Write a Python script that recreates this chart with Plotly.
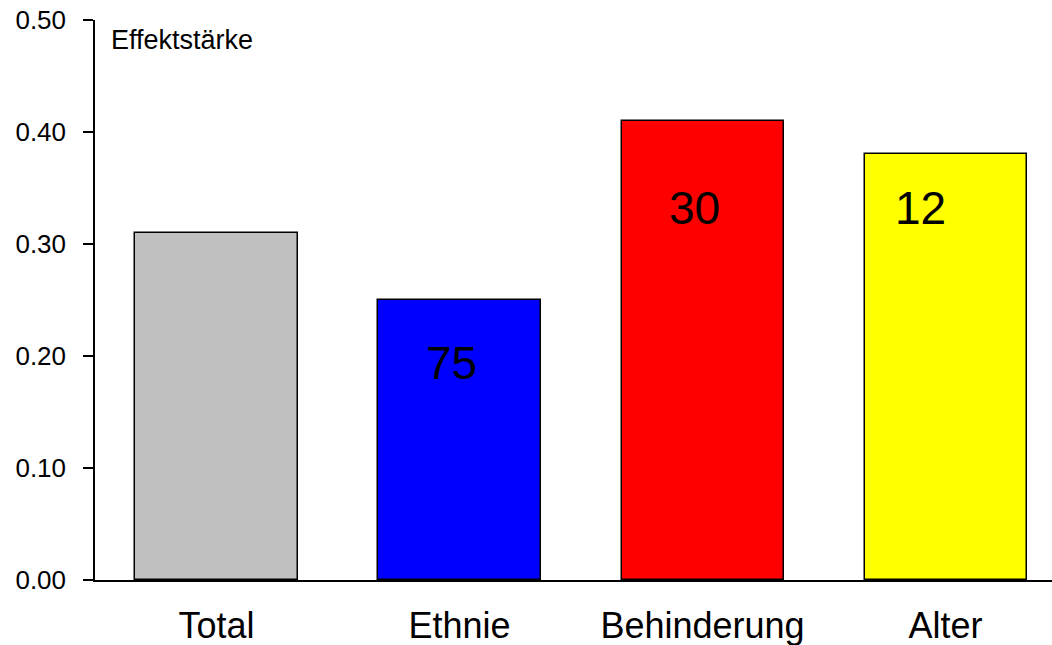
import plotly.graph_objects as go

categories = ["Total", "Ethnie", "Behinderung", "Alter"]
values = [0.31, 0.25, 0.41, 0.38]
colors = ["#c0c0c0", "#0000ff", "#ff0000", "#ffff00"]
count_labels = ["", "75", "30", "12"]
label_y = [0.0, 0.194, 0.332, 0.332]
label_dx = [0.0, -0.034, -0.035, -0.105]
y_ticks = [0.0, 0.1, 0.2, 0.3, 0.4, 0.5]

FONT = "Liberation Sans, Arial, sans-serif"

fig = go.Figure()
fig.add_trace(go.Bar(
    x=list(range(len(categories))),
    y=values,
    marker=dict(color=colors, line=dict(color="black", width=1.5)),
    width=0.667,
    hoverinfo="skip",
))

for i, (t, ly, dx) in enumerate(zip(count_labels, label_y, label_dx)):
    if t:
        fig.add_annotation(x=i + dx, y=ly, text=t, showarrow=False,
                           xref="x", yref="y",
                           font=dict(family=FONT, size=46, color="black"),
                           xanchor="center", yanchor="middle")

fig.add_annotation(x=0, y=0.482, xref="paper", yref="y", xshift=14,
                   text="Effektstärke", showarrow=False, xanchor="left",
                   yanchor="middle",
                   font=dict(family=FONT, size=27, color="black"))

fig.update_layout(
    width=1052, height=645,
    margin=dict(l=95, r=0, t=20, b=65),
    paper_bgcolor="white", plot_bgcolor="white",
    showlegend=False,
    bargap=0,
    xaxis=dict(
        range=[-0.5, 3.438],
        tickmode="array",
        tickvals=list(range(len(categories))),
        ticktext=categories,
        ticks="",
        showline=True, linecolor="black", linewidth=1.5,
        showgrid=False, zeroline=False,
        tickfont=dict(family=FONT, size=36, color="black"),
        ticklabelstandoff=13,
    ),
    yaxis=dict(
        range=[0, 0.5],
        tickmode="array",
        tickvals=y_ticks,
        ticktext=[f"{v:.2f}" for v in y_ticks],
        ticks="outside", ticklen=10, tickwidth=1.5, tickcolor="black",
        showline=True, linecolor="black", linewidth=1.5,
        showgrid=False, zeroline=False,
        tickfont=dict(family=FONT, size=26, color="black"),
        ticklabelstandoff=12,
    ),
)

fig.write_html("out.html")
